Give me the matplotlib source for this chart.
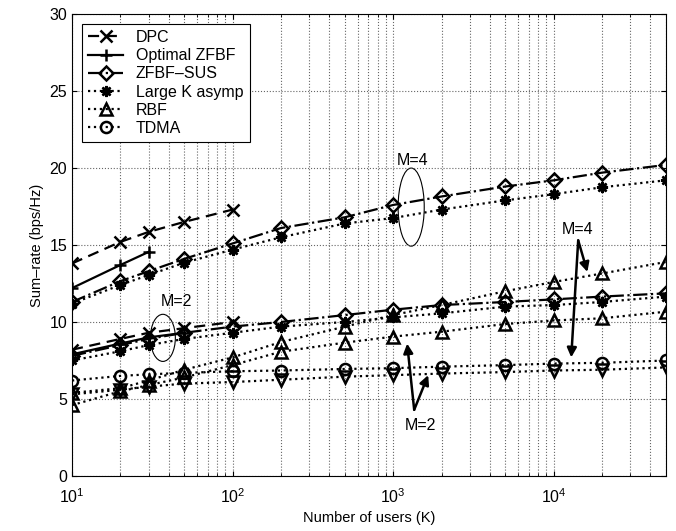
import matplotlib
matplotlib.use("Agg")
import matplotlib.pyplot as plt
from matplotlib.patches import Ellipse

plt.rcParams['font.family'] = ['Liberation Sans', 'DejaVu Sans']

# number of users
K = [10, 20, 30, 50, 100, 200, 500, 1000, 2000, 5000, 10000, 20000, 50000]
K_dpc = K[:5]
K_opt4 = K[:3]
K_opt2 = K[:4]

# M=4 curves
dpc_m4 = [13.8, 15.2, 15.85, 16.5, 17.3]
opt_m4 = [12.2, 13.7, 14.55]
sus_m4 = [11.3, 12.65, 13.3, 14.1, 15.1, 16.1, 16.8, 17.6, 18.15, 18.8, 19.2, 19.7, 20.2]
asy_m4 = [11.2, 12.4, 13.05, 13.85, 14.7, 15.5, 16.4, 16.75, 17.3, 17.9, 18.3, 18.75, 19.2]
rbf_m4 = [5.4, 5.7, 6.2, 6.9, 7.7, 8.7, 9.7, 10.45, 11.1, 12.0, 12.6, 13.15, 13.9]
tdma_m4 = [6.2, 6.5, 6.6, 6.7, 6.8, 6.85, 6.95, 7.0, 7.1, 7.2, 7.3, 7.35, 7.5]

# M=2 curves
dpc_m2 = [8.2, 8.9, 9.3, 9.6, 10.0]
opt_m2 = [7.9, 8.6, 9.0, 9.3]
sus_m2 = [7.8, 8.5, 8.9, 9.3, 9.7, 10.0, 10.45, 10.8, 11.1, 11.3, 11.47, 11.65, 11.86]
asy_m2 = [7.5, 8.1, 8.5, 8.9, 9.3, 9.7, 10.0, 10.3, 10.56, 11.0, 11.1, 11.3, 11.65]
rbf_m2 = [4.6, 5.5, 5.9, 6.4, 7.2, 8.07, 8.66, 9.05, 9.37, 9.87, 10.1, 10.24, 10.67]
tdma_m2 = [5.3, 5.6, 5.8, 6.0, 6.1, 6.25, 6.45, 6.55, 6.65, 6.75, 6.85, 6.9, 7.05]

fig = plt.figure(figsize=(6.76, 5.31), dpi=100)
ax = fig.add_axes([0.1065, 0.1036, 0.8787, 0.870])

mk = dict(color='k', lw=1.6, markersize=8, markerfacecolor='none', markeredgewidth=1.8)
star = (8, 2, 0)  # matlab-like asterisk

ax.semilogx(K_dpc, dpc_m4, '--', marker='x', label='DPC', dashes=(5, 3), **mk)
ax.semilogx(K_opt4, opt_m4, '-', marker='+', label='Optimal ZFBF', **mk)
ax.semilogx(K, sus_m4, '-.', marker='D', label='ZFBF\u2013SUS', **{**mk, 'markersize': 7})
ax.semilogx(K, asy_m4, ':', marker=star, label='Large K asymp', **mk)
ax.semilogx(K, rbf_m4, ':', marker='^', label='RBF', **mk)
ax.semilogx(K, tdma_m4, ':', marker='o', label='TDMA', **mk)

ax.semilogx(K_dpc, dpc_m2, '--', marker='x', dashes=(5, 3), **mk)
ax.semilogx(K_opt2, opt_m2, '-', marker='+', **mk)
ax.semilogx(K, sus_m2, '-.', marker='D', **{**mk, 'markersize': 7})
ax.semilogx(K, asy_m2, ':', marker=star, **mk)
ax.semilogx(K, rbf_m2, ':', marker='^', **mk)
ax.semilogx(K, tdma_m2, ':', marker='v', **mk)

ax.set_xlim(10, 5e4)
ax.set_ylim(0, 30)
ax.set_yticks([0, 5, 10, 15, 20, 25, 30])
ax.grid(True, which='both', ls=':', color='0.4', lw=0.8)
ax.tick_params(which='both', direction='in', top=True, right=True, labelsize=11.5)
ax.tick_params(axis='x', pad=8)
ax.set_xlabel('Number of users (K)', fontsize=10.5)
ax.set_ylabel('Sum\u2013rate (bps/Hz)', fontsize=10.5)

# annotations
ax.add_patch(Ellipse((0.571, 0.582), 0.044, 0.169, transform=ax.transAxes,
                     fill=False, color='k', lw=0.8))
ax.text(0.574, 0.684, 'M=4', transform=ax.transAxes, ha='center', va='center', fontsize=11.5)
ax.add_patch(Ellipse((0.153, 0.299), 0.042, 0.102, transform=ax.transAxes,
                     fill=False, color='k', lw=0.8))
ax.text(0.175, 0.377, 'M=2', transform=ax.transAxes, ha='center', va='center', fontsize=11.5)

arr = dict(arrowstyle='-|>', color='k', lw=1.8, mutation_scale=14, shrinkA=0, shrinkB=0)
ax.text(14000, 16.0, 'M=4', ha='center', va='center', fontsize=11.5)
ax.annotate('', xy=(16200, 13.25), xytext=(14200, 15.3), arrowprops=arr)
ax.annotate('', xy=(12850, 7.7), xytext=(14200, 15.3), arrowprops=arr)
ax.text(1473, 3.3, 'M=2', ha='center', va='center', fontsize=11.5)
ax.annotate('', xy=(1222, 8.6), xytext=(1352, 4.3), arrowprops=arr)
ax.annotate('', xy=(1652, 6.55), xytext=(1352, 4.3), arrowprops=arr)

leg = ax.legend(loc='upper left', fontsize=11.5, handlelength=2.2, fancybox=False,
                edgecolor='k', framealpha=1, borderaxespad=0.6, labelspacing=0.2)
leg.get_frame().set_linewidth(0.8)

fig.savefig('out.png', dpi=100)
